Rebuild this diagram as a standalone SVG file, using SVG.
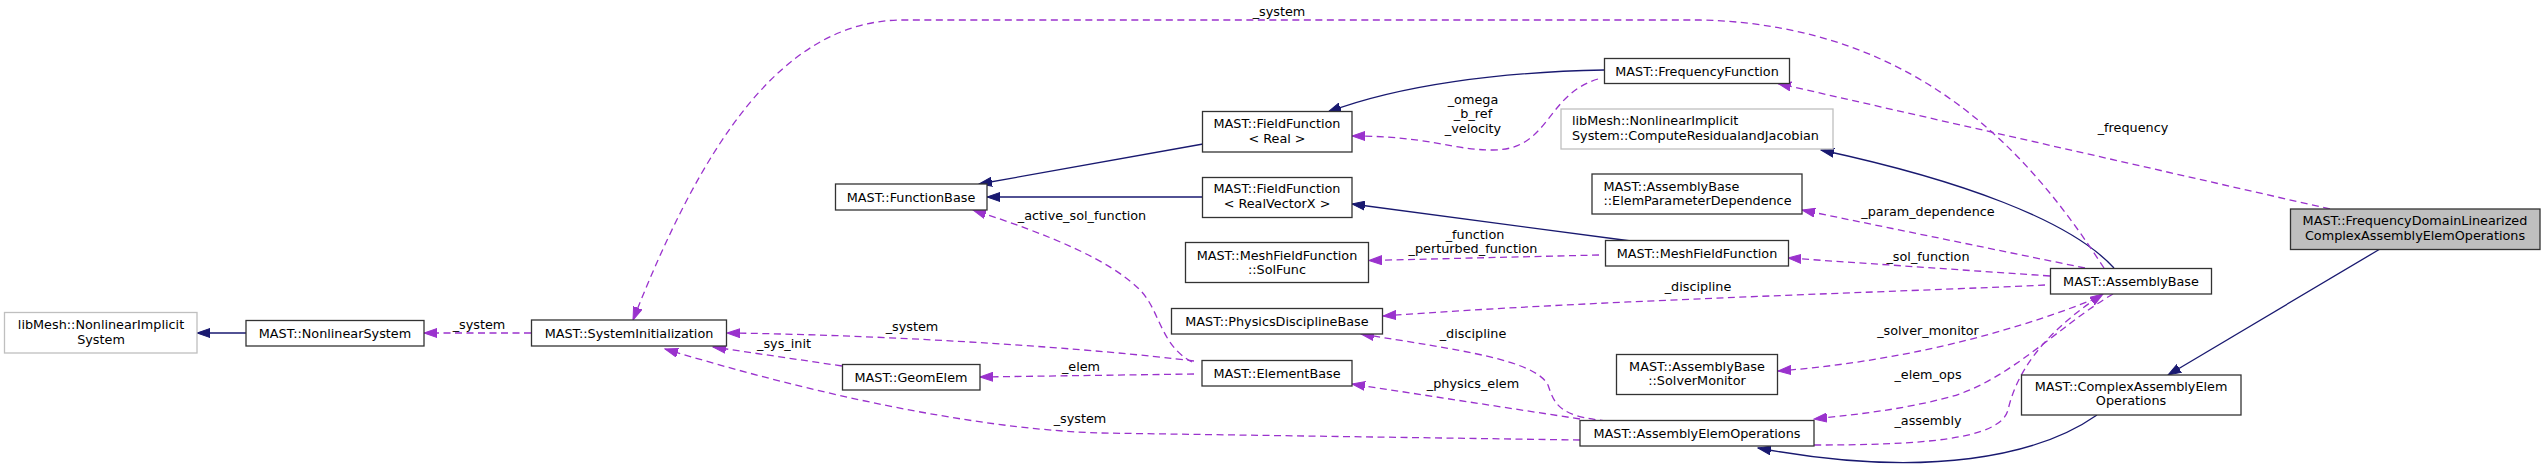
<svg xmlns="http://www.w3.org/2000/svg" width="2545" height="470" viewBox="0 0 2545 470">
<style>
text{font-family:"DejaVu Sans","Liberation Sans",sans-serif;font-size:12.8px;fill:#000}
.m{text-anchor:middle}
.s{text-anchor:start}
.node rect{fill:#fff;stroke:#333;stroke-width:1.3}
.ext rect{fill:#fff;stroke:#bfbfbf;stroke-width:1.3}
.cur rect{fill:#bfbfbf;stroke:#333;stroke-width:1.3}
.inh{fill:none;stroke:#191970;stroke-width:1.3;marker-end:url(#an)}
.col{fill:none;stroke:#9a32cd;stroke-width:1.3;stroke-dasharray:7,4.5;marker-end:url(#ap)}
</style>
<defs>
<marker id="an" markerUnits="userSpaceOnUse" markerWidth="14" markerHeight="10" refX="13" refY="5" orient="auto"><path d="M0,0.5 L13,5 L0,9.5 z" fill="#191970" stroke="#191970" stroke-width="1"/></marker>
<marker id="ap" markerUnits="userSpaceOnUse" markerWidth="14" markerHeight="10" refX="13" refY="5" orient="auto"><path d="M0,0.5 L13,5 L0,9.5 z" fill="#9a32cd" stroke="#9a32cd" stroke-width="1"/></marker>
</defs>
<rect width="2545" height="470" fill="#fff"/>
<g id="edges">
<path class="inh" d="M246,333 L197,333"/>
<path class="inh" d="M1203,144 L979,184"/>
<path class="inh" d="M1203,197 L987,197"/>
<path class="inh" d="M1604,70 C1500,72 1400,85 1328,112"/>
<path class="inh" d="M1631,241 L1352,204"/>
<path class="inh" d="M2114,268 C2070,220 1960,180 1821,150"/>
<path class="inh" d="M2380,249 L2168,375"/>
<path class="inh" d="M2097,415 C2040,455 1930,480 1758,448"/>
<path class="col" d="M531,333 L424,333"/>
<text class="m" x="479" y="329">_system</text>
<path class="col" d="M2104,268 C2040,170 1930,25 1700,20 L903,20 C780,20 700,150 633,320"/>
<text class="m" x="1279" y="16">_system</text>
<path class="col" d="M1194,361 C1100,349 900,335 727,333"/>
<text class="m" x="912" y="331">_system</text>
<path class="col" d="M842,366 L713,347"/>
<text class="m" x="784" y="348">_sys_init</text>
<path class="col" d="M1194,374 L980,377"/>
<text class="m" x="1081" y="371">_elem</text>
<path class="col" d="M1580,440 L1100,433 C1000,430 850,405 665,349"/>
<text class="m" x="1080" y="423">_system</text>
<path class="col" d="M1192,362 C1160,345 1160,310 1140,290 C1110,260 1050,235 973,210"/>
<text class="m" x="1082" y="220">_active_sol_function</text>
<path class="col" d="M1598,79 C1545,95 1550,150 1493,150 C1450,150 1430,136 1352,136"/>
<text class="m" x="1473" y="104">_omega</text>
<text class="m" x="1473" y="118">_b_ref</text>
<text class="m" x="1473" y="133">_velocity</text>
<path class="col" d="M2330,209 L1778,83.5"/>
<text class="m" x="2133" y="132">_frequency</text>
<path class="col" d="M2085,268 L1802,210"/>
<text class="m" x="1928" y="216">_param_dependence</text>
<path class="col" d="M2050,276 L1788,258"/>
<text class="m" x="1928" y="261">_sol_function</text>
<path class="col" d="M2045,285 C1900,292 1600,300 1383,316"/>
<text class="m" x="1698" y="291">_discipline</text>
<path class="col" d="M2097,298 C2030,325 1920,360 1778,371"/>
<text class="m" x="1928" y="335">_solver_monitor</text>
<path class="col" d="M2113,294 C2060,325 2010,380 1950,397 C1900,410 1860,414 1814,419"/>
<text class="m" x="1928" y="379">_elem_ops</text>
<path class="col" d="M1814,445 C1920,445 2000,440 2008,410 C2016,375 2040,335 2103,294"/>
<text class="m" x="1928" y="425">_assembly</text>
<path class="col" d="M1607,421 C1560,416 1555,406 1548,385 C1535,360 1460,350 1361,334"/>
<text class="m" x="1473" y="338">_discipline</text>
<path class="col" d="M1580,419 L1352,384"/>
<text class="m" x="1473" y="388">_physics_elem</text>
<path class="col" d="M1599,255 L1369,260.5"/>
<text class="m" x="1475" y="239">_function</text>
<text class="m" x="1473" y="253">_perturbed_function</text>
</g>
<g id="n_libmesh_nls" class="ext"><rect x="4.5" y="312.5" width="192.5" height="40.5"/><text class="m" x="101" y="329">libMesh::NonlinearImplicit</text><text class="m" x="101" y="344">System</text></g>
<g id="n_nonlinearsystem" class="node"><rect x="246" y="320.5" width="178" height="25.5"/><text class="m" x="335" y="337.5">MAST::NonlinearSystem</text></g>
<g id="n_systeminit" class="node"><rect x="531.5" y="320" width="195" height="26"/><text class="m" x="629" y="337.5">MAST::SystemInitialization</text></g>
<g id="n_geomelem" class="node"><rect x="842.5" y="364.5" width="137.5" height="25.5"/><text class="m" x="911" y="382">MAST::GeomElem</text></g>
<g id="n_functionbase" class="node"><rect x="835.5" y="184" width="151.5" height="26"/><text class="m" x="911" y="201.5">MAST::FunctionBase</text></g>
<g id="n_elementbase" class="node"><rect x="1202" y="360.5" width="150" height="25.5"/><text class="m" x="1277" y="378">MAST::ElementBase</text></g>
<g id="n_ff_real" class="node"><rect x="1202.5" y="111.5" width="149.5" height="40.5"/><text class="m" x="1277" y="128">MAST::FieldFunction</text><text class="m" x="1277" y="142.5">&lt; Real &gt;</text></g>
<g id="n_ff_vec" class="node"><rect x="1202.5" y="177.5" width="149.5" height="40"/><text class="m" x="1277" y="193">MAST::FieldFunction</text><text class="m" x="1277" y="208">&lt; RealVectorX &gt;</text></g>
<g id="n_solfunc" class="node"><rect x="1185.5" y="242.5" width="183" height="40"/><text class="m" x="1277" y="259.5">MAST::MeshFieldFunction</text><text class="m" x="1277" y="273.5">::SolFunc</text></g>
<g id="n_physics" class="node"><rect x="1171.5" y="308.5" width="211" height="25.5"/><text class="m" x="1277" y="325.5">MAST::PhysicsDisciplineBase</text></g>
<g id="n_freqfunc" class="node"><rect x="1604.5" y="58.5" width="185" height="25"/><text class="m" x="1697" y="75.5">MAST::FrequencyFunction</text></g>
<g id="n_computeres" class="ext"><rect x="1561" y="109" width="272" height="40"/><text class="s" x="1572" y="124.5">libMesh::NonlinearImplicit</text><text class="s" x="1572" y="139.5">System::ComputeResidualandJacobian</text></g>
<g id="n_elemparam" class="node"><rect x="1592" y="174" width="210" height="40"/><text class="s" x="1603.5" y="191">MAST::AssemblyBase</text><text class="s" x="1603.5" y="205">::ElemParameterDependence</text></g>
<g id="n_meshff" class="node"><rect x="1605.5" y="240.5" width="183" height="25.5"/><text class="m" x="1697" y="257.5">MAST::MeshFieldFunction</text></g>
<g id="n_solvermon" class="node"><rect x="1616.5" y="354.5" width="161" height="40"/><text class="m" x="1697" y="371">MAST::AssemblyBase</text><text class="m" x="1697" y="385">::SolverMonitor</text></g>
<g id="n_asmelemops" class="node"><rect x="1580" y="420.5" width="234" height="25.5"/><text class="m" x="1697" y="438">MAST::AssemblyElemOperations</text></g>
<g id="n_asmbase" class="node"><rect x="2050.5" y="268.5" width="161" height="25.5"/><text class="m" x="2131" y="285.5">MAST::AssemblyBase</text></g>
<g id="n_complexasm" class="node"><rect x="2021.5" y="375" width="219.5" height="40"/><text class="m" x="2131" y="391">MAST::ComplexAssemblyElem</text><text class="m" x="2131" y="405">Operations</text></g>
<g id="n_freqdomain" class="cur"><rect x="2290.5" y="209" width="249.5" height="40.5"/><text class="m" x="2415" y="225">MAST::FrequencyDomainLinearized</text><text class="m" x="2415" y="239.5">ComplexAssemblyElemOperations</text></g>
</svg>
